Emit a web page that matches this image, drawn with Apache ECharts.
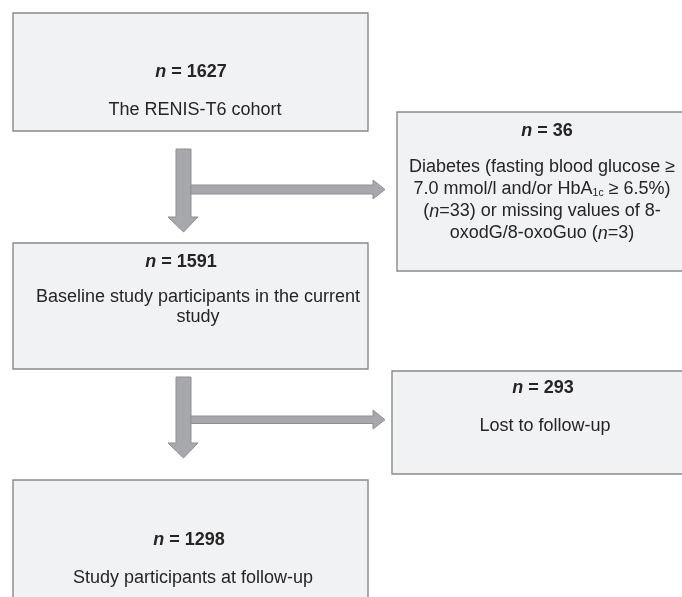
<!DOCTYPE html>
<html>
<head>
<meta charset="utf-8">
<script src="https://cdn.jsdelivr.net/npm/echarts@6/dist/echarts.min.js"></script>
<style>
html,body{margin:0;padding:0;background:#fff;}
#chart{width:682px;height:597px;}
</style>
</head>
<body>
<div id="chart"></div>
<script>
// ---- data ----
const stageCounts = [1627, 36, 1591, 293, 1298];
const stageDescriptions = [
  'The RENIS-T6 cohort',
  'Diabetes (fasting blood glucose ≥\n7.0 mmol/l and/or HbA{sub|1c} ≥ 6.5%)\n({it|n}=33) or missing values of 8-\noxodG/8-oxoGuo ({it|n}=3)',
  'Baseline study participants in the current\nstudy',
  'Lost to follow-up',
  'Study participants at follow-up'
];
// arrows: [from stage, to stage]
const flowLinks = [[0, 2], [0, 1], [2, 4], [2, 3]];

// ---- layout (pixel space of the 682x597 canvas) ----
const boxLayout = [
  {x0: 13,  y0: 13,  x1: 368, y1: 131, nX: 191, nY: 72,  dX: 195, dY: 110,   lh: 22},
  {x0: 397, y0: 112, x1: 684, y1: 271, nX: 547, nY: 131, dX: 542, dY: 200.5, lh: 22},
  {x0: 13,  y0: 243, x1: 368, y1: 369, nX: 181, nY: 262, dX: 198, dY: 307,   lh: 20.5},
  {x0: 392, y0: 371, x1: 684, y1: 474, nX: 543, nY: 388, dX: 545, dY: 426,   lh: 22},
  {x0: 13,  y0: 480, x1: 368, y1: 620, nX: 189, nY: 540, dX: 193, dY: 578,   lh: 22}
];
const arrowLayout = [
  {dir: 'down',  a: 176, b: 191, s: 149, h: 217, t: 232, ha: 168, hb: 198},
  {dir: 'right', a: 185, b: 194, s: 191, h: 373, t: 385, ha: 180, hb: 199},
  {dir: 'down',  a: 176, b: 191, s: 377, h: 443, t: 458, ha: 168, hb: 198},
  {dir: 'right', a: 416, b: 423.5, s: 191, h: 373, t: 385, ha: 410, hb: 429}
];

const FONT = 'Arial, "Liberation Sans", Helvetica, sans-serif';
const FS = 18;
const TXT = '#262424';

function richStyles(lh) {
  return {
    it: {fontStyle: 'italic', fontSize: FS, fontFamily: FONT, fill: TXT, lineHeight: lh},
    bi: {fontStyle: 'italic', fontWeight: 'bold', fontSize: FS, fontFamily: FONT, fill: TXT, lineHeight: lh},
    b: {fontWeight: 'bold', fontSize: FS, fontFamily: FONT, fill: TXT, lineHeight: lh},
    sub: {fontSize: 10.5, fontFamily: FONT, fill: TXT, verticalAlign: 'bottom', padding: [0, 0, 2, 0]}
  };
}

const chart = echarts.init(document.getElementById('chart'), null, {renderer: 'canvas'});

chart.setOption({
  animation: false,
  grid: {left: 0, right: 0, top: 0, bottom: 0},
  xAxis: {type: 'value', min: 0, max: 682, show: false},
  yAxis: {type: 'value', min: 0, max: 597, inverse: true, show: false},
  series: [
    {
      type: 'custom',
      coordinateSystem: 'cartesian2d',
      clip: false,
      z: 1,
      data: flowLinks.map((l, i) => [i, l[0], l[1]]),
      renderItem: function (params, api) {
        const g = arrowLayout[api.value(0)];
        const P = (x, y) => api.coord([x, y]);
        let pts;
        if (g.dir === 'down') {
          pts = [P(g.a, g.s), P(g.b, g.s), P(g.b, g.h), P(g.hb, g.h),
                 P((g.a + g.b) / 2, g.t), P(g.ha, g.h), P(g.a, g.h)];
        } else {
          pts = [P(g.s, g.a), P(g.h, g.a), P(g.h, g.ha), P(g.t, (g.a + g.b) / 2),
                 P(g.h, g.hb), P(g.h, g.b), P(g.s, g.b)];
        }
        return {
          type: 'polygon',
          shape: {points: pts},
          style: {fill: '#a7a8ab', stroke: '#8e8f92', lineWidth: 1}
        };
      }
    },
    {
      type: 'custom',
      coordinateSystem: 'cartesian2d',
      clip: false,
      z: 2,
      data: stageCounts.map((n, i) => [i, n]),
      renderItem: function (params, api) {
        const i = api.value(0);
        const n = api.value(1);
        const L = boxLayout[i];
        const p0 = api.coord([L.x0, L.y0]);
        const p1 = api.coord([L.x1, L.y1]);
        const pn = api.coord([L.nX, L.nY]);
        const pd = api.coord([L.dX, L.dY]);
        return {
          type: 'group',
          children: [
            {
              type: 'rect',
              shape: {x: p0[0], y: p0[1], width: p1[0] - p0[0], height: p1[1] - p0[1]},
              style: {fill: '#f1f2f4', stroke: '#8a8a8a', lineWidth: 1.4}
            },
            {
              type: 'text',
              style: {
                x: pn[0], y: pn[1],
                text: '{bi|n}{b| = ' + n + '}',
                align: 'center', verticalAlign: 'middle',
                fontSize: FS, fontFamily: FONT, fill: TXT,
                rich: richStyles(22)
              }
            },
            {
              type: 'text',
              style: {
                x: pd[0], y: pd[1],
                text: stageDescriptions[i],
                align: 'center', verticalAlign: 'middle',
                fontSize: FS, fontFamily: FONT, fill: TXT,
                lineHeight: L.lh,
                rich: richStyles(L.lh)
              }
            }
          ]
        };
      }
    }
  ]
});
</script>
</body>
</html>
